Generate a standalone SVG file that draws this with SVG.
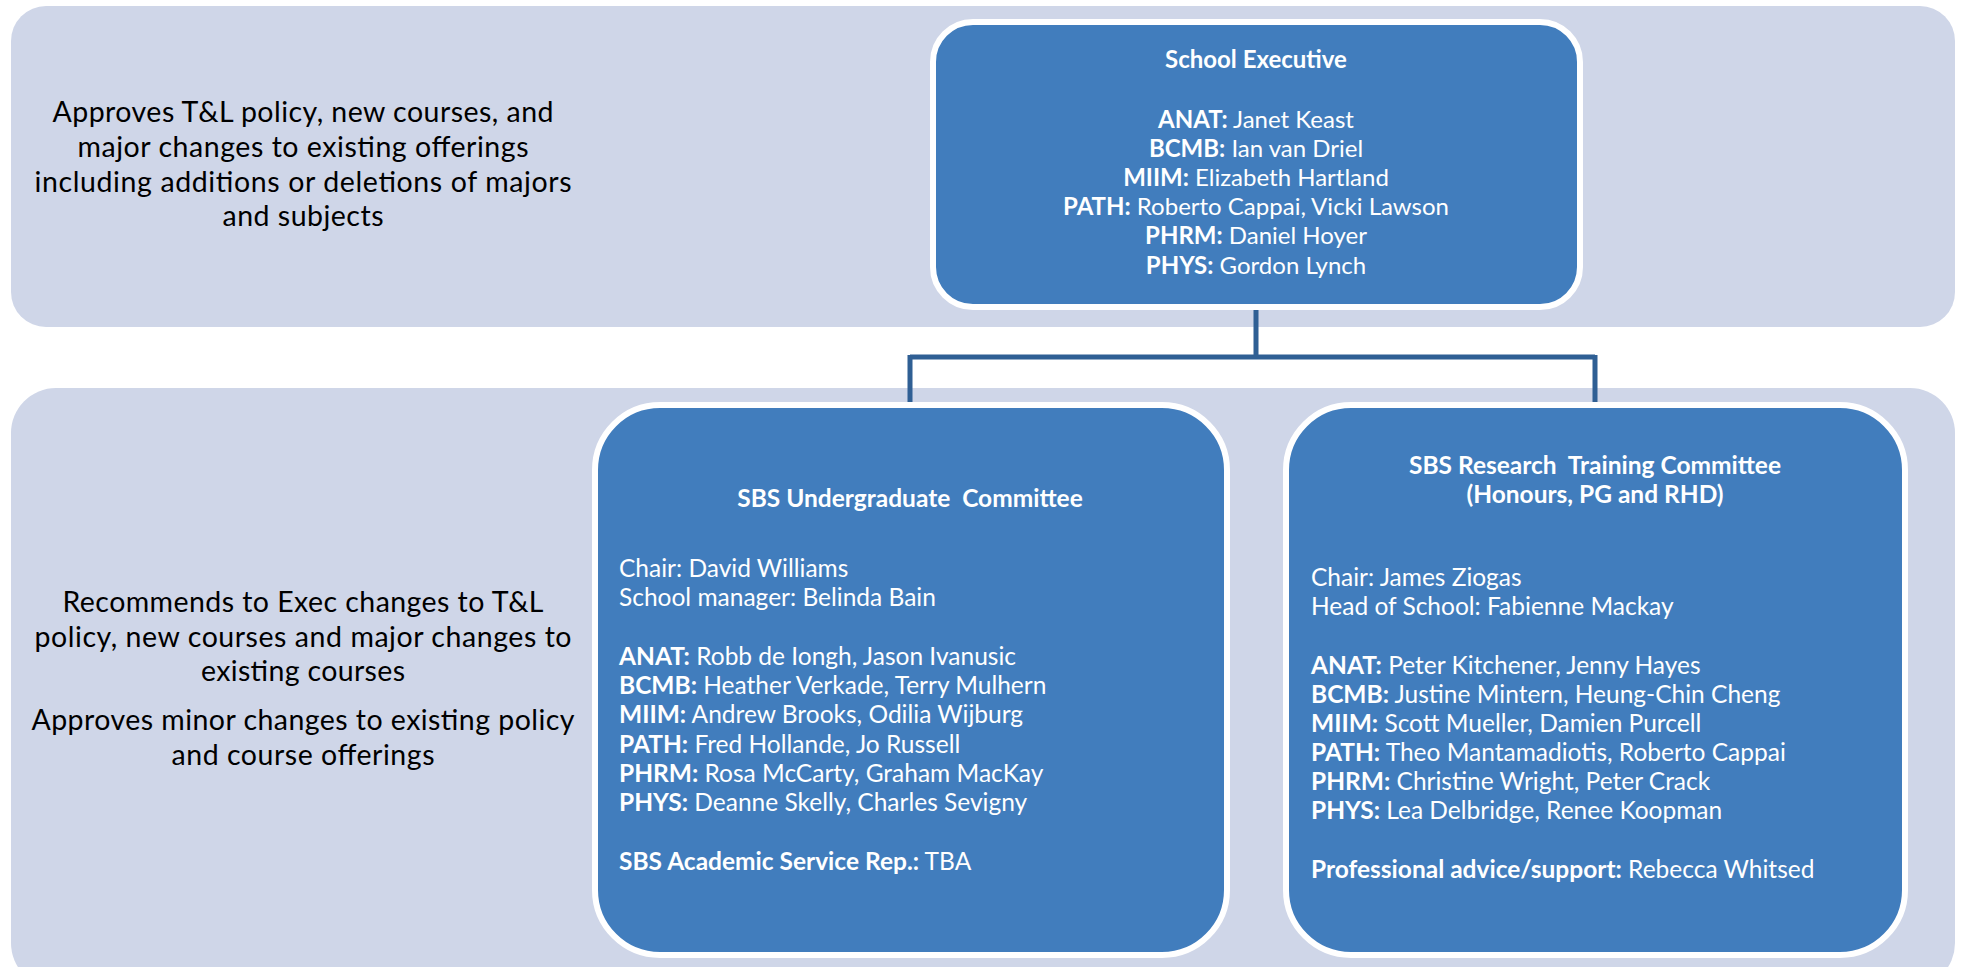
<svg xmlns="http://www.w3.org/2000/svg" width="1964" height="967" viewBox="0 0 1964 967">
<style>
.band{fill:#cfd6e8;}
.box{fill:#417dbd;stroke:#ffffff;stroke-width:6;}
.desc{font-family:Lato,"Liberation Sans",sans-serif;font-size:28.5px;fill:#000;text-anchor:middle;}
.t{font-family:Lato,"Liberation Sans",sans-serif;font-size:24.5px;fill:#fff;}
.te{font-family:Lato,"Liberation Sans",sans-serif;font-size:24px;fill:#fff;text-anchor:middle;}
.c{text-anchor:middle;}
.b{font-weight:bold;}
.conn{fill:none;stroke:#2f5f94;stroke-width:5;}
</style>
<g id="band-top">
<rect class="band" x="11" y="6" width="1944" height="321" rx="35" ry="35"/>
<text class="desc" x="303" y="122" textLength="501">Approves T&amp;L policy, new courses, and</text>
<text class="desc" x="303" y="157" textLength="451">major changes to existing offerings</text>
<text class="desc" x="303" y="192" textLength="537">including additions or deletions of majors</text>
<text class="desc" x="303" y="226" textLength="161">and subjects</text>
</g>
<g id="band-bottom">
<rect class="band" x="11" y="388" width="1944" height="600" rx="45" ry="45"/>
<text class="desc" x="303" y="612" textLength="481">Recommends to Exec changes to T&amp;L</text>
<text class="desc" x="303" y="647" textLength="537">policy, new courses and major changes to</text>
<text class="desc" x="303" y="681" textLength="204">existing courses</text>
<text class="desc" x="303" y="730" textLength="543">Approves minor changes to existing policy</text>
<text class="desc" x="303" y="765" textLength="263">and course offerings</text>
</g>
<g id="connectors">
<path class="conn" d="M1256 307 V357 M910 357 H1595 M910 355 V405 M1595 355 V405"/>
</g>
<g id="school-executive">
<rect class="box" x="933" y="22" width="647" height="285" rx="40" ry="40"/>
<text class="te b" x="1256" y="68">School Executive</text>
<text class="te" x="1256" y="128"><tspan class="b">ANAT:</tspan> Janet Keast</text>
<text class="te" x="1256" y="157"><tspan class="b">BCMB:</tspan> Ian van Driel</text>
<text class="te" x="1256" y="186"><tspan class="b">MIIM:</tspan> Elizabeth Hartland</text>
<text class="te" x="1256" y="215"><tspan class="b">PATH:</tspan> Roberto Cappai, Vicki Lawson</text>
<text class="te" x="1256" y="244"><tspan class="b">PHRM:</tspan> Daniel Hoyer</text>
<text class="te" x="1256" y="274"><tspan class="b">PHYS:</tspan> Gordon Lynch</text>
</g>
<g id="undergraduate-committee">
<rect class="box" x="595" y="405" width="632" height="550" rx="65" ry="65"/>
<text class="t b c" x="910" y="507" xml:space="preserve">SBS Undergraduate  Committee</text>
<text class="t" x="619" y="577">Chair: David Williams</text>
<text class="t" x="619" y="606">School manager: Belinda Bain</text>
<text class="t" x="619" y="665"><tspan class="b">ANAT:</tspan> Robb de Iongh, Jason Ivanusic</text>
<text class="t" x="619" y="694"><tspan class="b">BCMB:</tspan> Heather Verkade, Terry Mulhern</text>
<text class="t" x="619" y="723"><tspan class="b">MIIM:</tspan> Andrew Brooks, Odilia Wijburg</text>
<text class="t" x="619" y="753"><tspan class="b">PATH:</tspan> Fred Hollande, Jo Russell</text>
<text class="t" x="619" y="782"><tspan class="b">PHRM:</tspan> Rosa McCarty, Graham MacKay</text>
<text class="t" x="619" y="811"><tspan class="b">PHYS:</tspan> Deanne Skelly, Charles Sevigny</text>
<text class="t" x="619" y="870"><tspan class="b">SBS Academic Service Rep.:</tspan> TBA</text>
</g>
<g id="research-training-committee">
<rect class="box" x="1286" y="405" width="619" height="550" rx="65" ry="65"/>
<text class="t b c" x="1595" y="474" xml:space="preserve">SBS Research  Training Committee</text>
<text class="t b c" x="1595" y="503">(Honours, PG and RHD)</text>
<text class="t" x="1311" y="586">Chair: James Ziogas</text>
<text class="t" x="1311" y="615">Head of School: Fabienne Mackay</text>
<text class="t" x="1311" y="674"><tspan class="b">ANAT:</tspan> Peter Kitchener, Jenny Hayes</text>
<text class="t" x="1311" y="703"><tspan class="b">BCMB:</tspan> Justine Mintern, Heung-Chin Cheng</text>
<text class="t" x="1311" y="732"><tspan class="b">MIIM:</tspan> Scott Mueller, Damien Purcell</text>
<text class="t" x="1311" y="761"><tspan class="b">PATH:</tspan> Theo Mantamadiotis, Roberto Cappai</text>
<text class="t" x="1311" y="790"><tspan class="b">PHRM:</tspan> Christine Wright, Peter Crack</text>
<text class="t" x="1311" y="819"><tspan class="b">PHYS:</tspan> Lea Delbridge, Renee Koopman</text>
<text class="t" x="1311" y="878"><tspan class="b">Professional advice/support:</tspan> Rebecca Whitsed</text>
</g>
</svg>
